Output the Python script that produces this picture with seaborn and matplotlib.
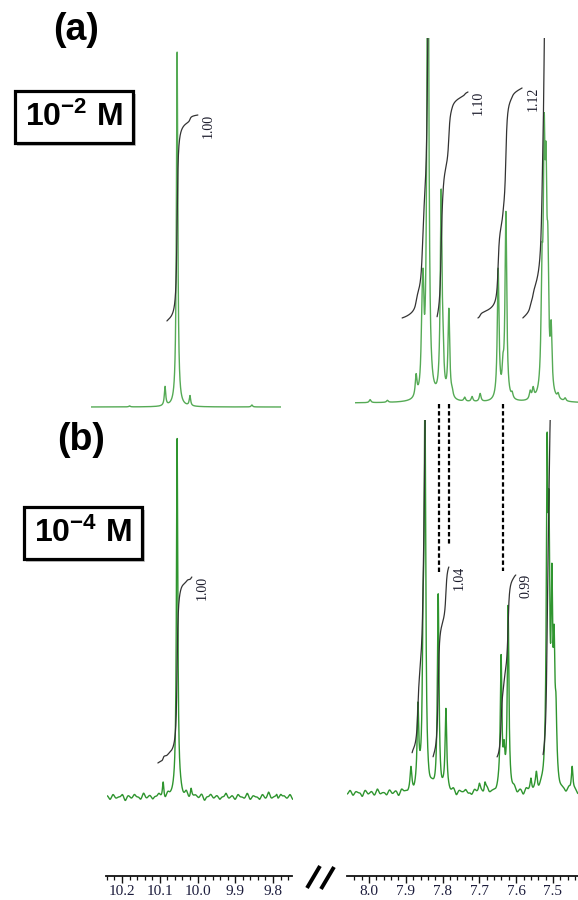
import numpy as np
import pandas as pd
import matplotlib
matplotlib.use("Agg")
import matplotlib.pyplot as plt
import seaborn as sns
from matplotlib.lines import Line2D
from matplotlib import patheffects as pe
from matplotlib.ticker import FixedLocator, MultipleLocator, FormatStrFormatter
import matplotlib.transforms as mtransforms

# ------------------------------------------------------------------ data
# (a) 10^-2 M
a_left_ppm = [10.180, 10.086, 10.054, 10.020, 9.856]
a_left_height = [1, 19, 355, 10, 2]
a_right_ppm = [7.997, 7.950, 7.872, 7.856, 7.853, 7.840, 7.804, 7.799, 7.783, 7.774,
               7.740, 7.720, 7.698, 7.649, 7.636, 7.628, 7.611, 7.562, 7.554,
               7.530, 7.524, 7.519, 7.514, 7.505, 7.486, 7.467]
a_right_height = [3, 2, 21, 50, 83, 600, 201, 30, 88, 5,
                  4, 5, 8, 130, 23, 186, 5, 8, 10,
                  103, 220, 173, 111, 60, 5, 3]
# (b) 10^-4 M
b_left_ppm = [10.091, 10.054, 10.017, 9.790]
b_left_height = [15, 361, 8, 4]
b_right_ppm = [7.886, 7.867, 7.853, 7.848, 7.812, 7.791, 7.700, 7.685, 7.641, 7.633,
               7.622, 7.560, 7.545, 7.516, 7.511, 7.503, 7.497, 7.492, 7.448]
b_right_height = [20, 78, 120, 375, 193, 80, 8, 10, 133, 30,
                  183, 12, 15, 305, 215, 175, 118, 55, 26]
b_left_noise = [1, -2, 2, -1, 0, 2, -3, 1, -1, 2, 0, -2, 3, -1, 1, -2, 0, 2, -1, -3,
                2, 0, 1, -2, 2, -1, 3, -2, 0, 1, -1, 2, -3, 0, 2, -1, 1, -2, 0, 3,
                -1, 1, -2, 2, 0, -1, 3, -2, 1, 0, -2, 2, -1, 4, -1, 0, -2, 2, 1, -1,
                2, -2]
b_right_noise = [-1, 2, -2, 1, 0, -3, 2, -1, 1, -2, 3, -1, 0, -2, 2, -1, 1, -3, 2, 0,
                 -1, 2, -2, 1, 3, -1, 0, -2, 1, -1, 2, -2, 0, 1, -1, 2, -3, 1, 0, 2,
                 -1, -2, 2, 0, 1, -2, 3, -1, 0, -1, 2, -2, 1, 0, -1, 2, -2, 1, -3, 2,
                 0, -1, 2, -2, 1, 0, -1, 2, -2, 3, -1, 0, -2, 2, -1, 1, -2]

# integrals: (start ppm, end ppm, start level, rise, label)
a_left_int = [(10.081, 9.999, 86, 206, "1.00")]
a_right_int = [(7.910, 7.818, 85, 480, ""), (7.815, 7.731, 86, 225, "1.10"),
               (7.704, 7.584, 85, 230, "1.12"), (7.582, 7.481, 85, 700, "")]
b_left_int = [(10.105, 10.015, 34, 186, "1.00")]
b_right_int = [(7.883, 7.829, 40, 500, ""), (7.826, 7.783, 36, 190, "1.04"),
               (7.652, 7.601, 36, 182, "0.99"), (7.527, 7.481, 38, 600, "")]

tick_left = [10.2, 10.1, 10.0, 9.9, 9.8]
tick_right = [8.0, 7.9, 7.8, 7.7, 7.6, 7.5]
dashed_ppm = [7.810, 7.783, 7.636]

# ------------------------------------------------------------------ style
sns.set_style("white")
plt.rcParams["font.family"] = ["Liberation Sans", "DejaVu Sans"]
plt.rcParams["mathtext.default"] = "regular"
plt.rcParams["text.color"] = "black"

W, H = 578, 900
fig = plt.figure(figsize=(W / 100, H / 100), dpi=100)
fig.patch.set_facecolor("white")


def add_px_axes(x0, x1, ytop, ybot):
    return fig.add_axes([x0 / W, 1 - ybot / H, (x1 - x0) / W, (ybot - ytop) / H])


def ppm_left(px):
    return 10.2 - (px - 122) / 377.5


def ppm_right(px):
    return 8.0 - (px - 369) / 368.0


def lorentz_sum(x, pos, hts, w):
    y = np.zeros_like(x)
    for p, h in zip(pos, hts):
        y += h * w ** 2 / ((x - p) ** 2 + w ** 2)
    return y


def noise_sum(x, amps, hi, lo):
    if not amps:
        return np.zeros_like(x)
    centers = np.linspace(hi, lo, len(amps))
    s = abs(centers[1] - centers[0]) * 0.33
    y = np.zeros_like(x)
    for c, a in zip(centers, amps):
        y += 1.2 * a * np.exp(-0.5 * ((x - c) / s) ** 2)
    return y


panels = [
    dict(x0=91, x1=281, ytop=30, base=407, conv=ppm_left, pos=a_left_ppm, hts=a_left_height,
         noise=[], color="#55aa55", ints=a_left_int, w=0.0022),
    dict(x0=355, x1=578, ytop=38, base=403, conv=ppm_right, pos=a_right_ppm, hts=a_right_height,
         noise=[], color="#55aa55", ints=a_right_int, w=0.0028),
    dict(x0=107, x1=293, ytop=420, base=797, conv=ppm_left, pos=b_left_ppm, hts=b_left_height,
         noise=b_left_noise, color="#2f952f", ints=b_left_int, w=0.0022),
    dict(x0=347, x1=578, ytop=420, base=793, conv=ppm_right, pos=b_right_ppm, hts=b_right_height,
         noise=b_right_noise, color="#2f952f", ints=b_right_int, w=0.0026),
]

axes = []
for p in panels:
    ax = add_px_axes(p["x0"], p["x1"], p["ytop"], p["base"] + 8)
    hi, lo = p["conv"](p["x0"]), p["conv"](p["x1"])
    x = np.linspace(hi, lo, 4000)
    y = lorentz_sum(x, p["pos"], p["hts"], p["w"]) + noise_sum(x, p["noise"], hi, lo)
    df = pd.DataFrame({"ppm": x, "intensity": y})
    sns.lineplot(data=df, x="ppm", y="intensity", ax=ax, color=p["color"], lw=1.0,
                 estimator=None, sort=False, zorder=2)
    for (s, e, y0, rise, lab) in p["ints"]:
        m = (x <= s) & (x >= e)
        xs = x[m]
        cs = np.cumsum(np.clip(y[m], 0, None))
        ys = y0 + rise * cs / cs[-1]
        idf = pd.DataFrame({"ppm": xs, "integral": ys})
        sns.lineplot(data=idf, x="ppm", y="integral", ax=ax, color="#333333", lw=0.9,
                     estimator=None, sort=False, zorder=3)
        if lab:
            ax.annotate(lab, xy=(xs[-1], ys[-1]), xytext=(3, 1), textcoords="offset points",
                        rotation=90, ha="left", va="top", fontsize=10,
                        family=["Liberation Serif", "DejaVu Serif"], color="#1a1a2a")
    ax.set_xlim(hi, lo)
    ax.set_ylim(-8, p["base"] - p["ytop"])
    ax.axis("off")
    axes.append(ax)

# dashed guide lines from (a) peaks down into (b)
ax_br = axes[3]
trans = mtransforms.blended_transform_factory(ax_br.transData, fig.transFigure)
dash_bottom = [573, 545, 571]
for xp, yb in zip(dashed_ppm, dash_bottom):
    fig.add_artist(Line2D([xp, xp], [1 - 404 / H, 1 - yb / H], transform=trans,
                          color="black", lw=1.6, ls=(0, (2.0, 1.2))))

# ppm scale axes at the bottom
scales = [(106, 292, ppm_left, tick_left), (347, 579, ppm_right, tick_right)]
for x0, x1, conv, ticks in scales:
    ax = add_px_axes(x0, x1, 858, 875.5)
    ax.set_xlim(conv(x0), conv(x1))
    ax.set_yticks([])
    for sp in ["top", "left", "right"]:
        ax.spines[sp].set_visible(False)
    ax.spines["bottom"].set_linewidth(1.3)
    ax.spines["bottom"].set_color("#111111")
    ax.xaxis.set_major_locator(FixedLocator(ticks))
    ax.xaxis.set_minor_locator(MultipleLocator(0.02))
    ax.xaxis.set_major_formatter(FormatStrFormatter("%.1f"))
    ax.tick_params(axis="x", which="major", direction="out", length=5, width=1.0,
                   pad=1.5, labelsize=11, colors="#111111", labelcolor="#1c1c3c",
                   bottom=True)
    ax.tick_params(axis="x", which="minor", direction="out", length=3, width=0.9,
                   colors="#111111", bottom=True)
    for t in ax.get_xticklabels():
        t.set_family(["Liberation Serif", "DejaVu Serif"])
    ax.patch.set_alpha(0)

# axis break symbol
for (xa, ya, xb, yb) in [(307, 888, 320, 866), (321, 889, 334, 867)]:
    fig.add_artist(Line2D([xa / W, xb / W], [1 - ya / H, 1 - yb / H],
                          transform=fig.transFigure, color="black", lw=2.8,
                          solid_capstyle="butt"))

# panel letters
fig.text(76 / W, 1 - 30 / H, "(a)", ha="center", va="center", fontsize=27,
         fontweight="bold", color="black")
fig.text(81 / W, 1 - 440 / H, "(b)", ha="center", va="center", fontsize=27,
         fontweight="bold", color="black")

# concentration boxes
for (cx, cy, s) in [(74, 117, "10$^{-2}$ M"), (83, 533, "10$^{-4}$ M")]:
    t = fig.text(cx / W, 1 - cy / H, s, ha="center", va="center", fontsize=23,
                 fontweight="bold", color="black",
                 bbox=dict(boxstyle="square,pad=0.33", fc="white", ec="black", lw=2.3))
    t.get_bbox_patch().set_path_effects([
        pe.SimplePatchShadow(offset=(2, -2), shadow_rgbFace="0.55", alpha=0.5),
        pe.Normal()])

fig.savefig("out.png", dpi=100, facecolor="white")
